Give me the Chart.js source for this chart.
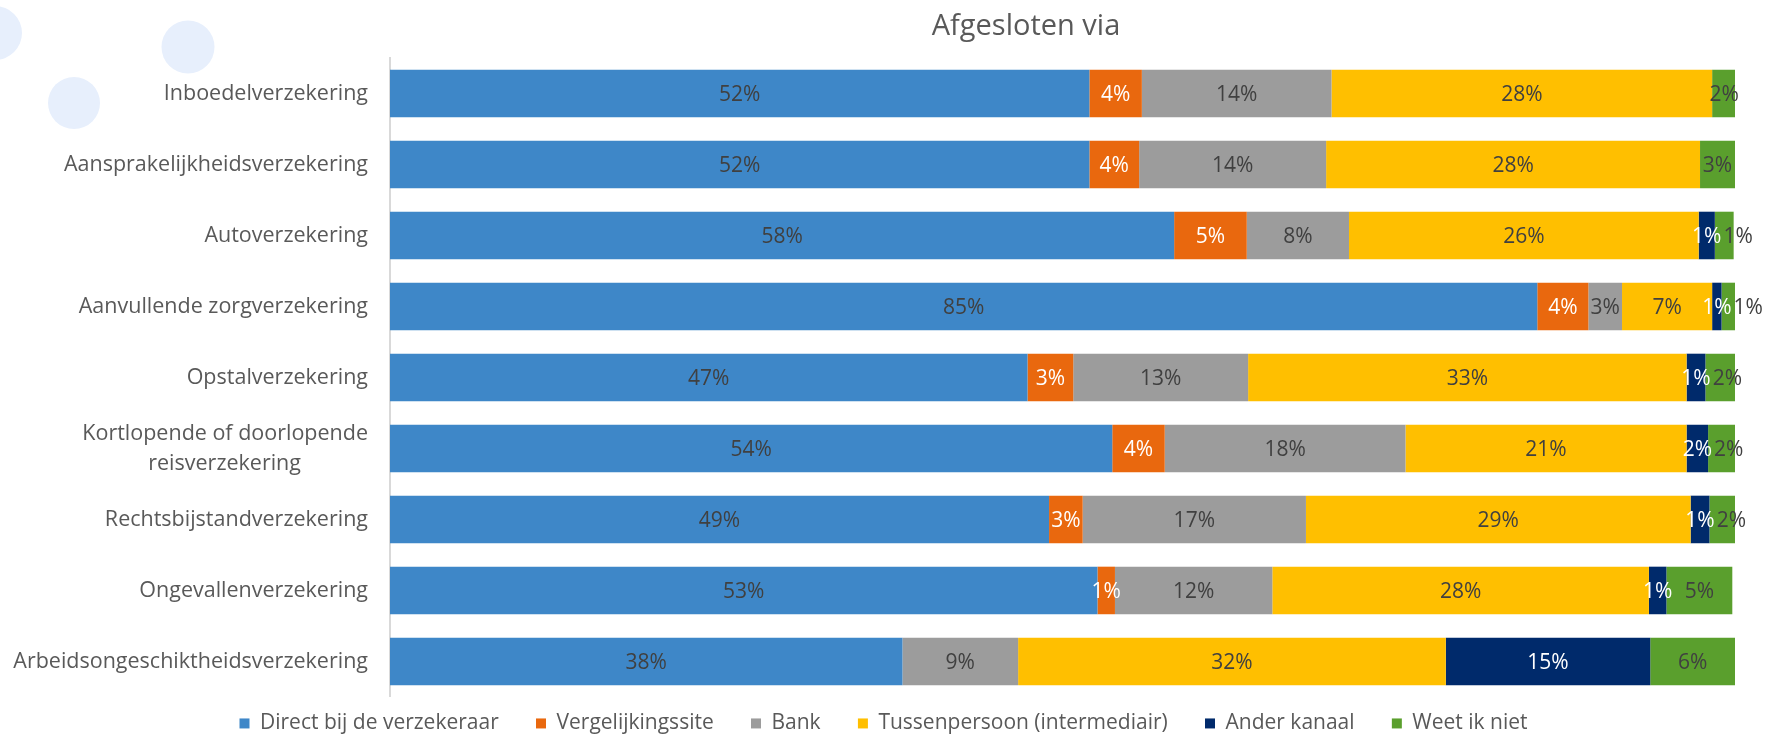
<!DOCTYPE html>
<html>
<head>
<meta charset="utf-8">
<script src="https://cdn.jsdelivr.net/npm/chart.js@4.4.1/dist/chart.umd.min.js"></script>
<style>
html,body{margin:0;padding:0;background:#ffffff;}
canvas{display:block;}
</style>
</head>
<body>
<canvas id="c" width="1767" height="734"></canvas>
<script>
const chartTitle = 'Afgesloten via';
const categories = [
  'Inboedelverzekering',
  'Aansprakelijkheidsverzekering',
  'Autoverzekering',
  'Aanvullende zorgverzekering',
  'Opstalverzekering',
  ['Kortlopende of doorlopende', 'reisverzekering'],
  'Rechtsbijstandverzekering',
  'Ongevallenverzekering',
  'Arbeidsongeschiktheidsverzekering'
];
const seriesNames = ['Direct bij de verzekeraar', 'Vergelijkingssite', 'Bank', 'Tussenpersoon (intermediair)', 'Ander kanaal', 'Weet ik niet'];
const directBijVerzekeraar = [52.0, 52.0, 58.3, 85.3, 47.4, 53.7, 49.0, 52.6, 38.1];
const vergelijkingssite    = [3.9, 3.7, 5.4, 3.8, 3.4, 3.9, 2.5, 1.3, 0];
const bank                 = [14.1, 13.9, 7.6, 2.5, 13.0, 17.9, 16.6, 11.7, 8.6];
const tussenpersoon        = [28.3, 27.8, 26.0, 6.7, 32.6, 20.9, 28.6, 28.0, 31.8];
const anderKanaal          = [0, 0, 1.2, 0.7, 1.4, 1.6, 1.4, 1.3, 15.2];
const weetIkNiet           = [1.8, 2.6, 1.4, 1.0, 2.2, 2.0, 2.0, 4.9, 6.3];

const seriesValues = [directBijVerzekeraar, vergelijkingssite, bank, tussenpersoon, anderKanaal, weetIkNiet];
const seriesColors = ['#3E87C8', '#E9680E', '#9C9C9C', '#FFBF00', '#002A6B', '#5A9F2D'];
const labelColors  = ['#404040', '#FFFFFF', '#404040', '#404040', '#FFFFFF', '#404040'];

const FONT = '"Open Sans", "DejaVu Sans", sans-serif';

// category labels: second line of multi-line label centred under first line
const displayCategories = categories.map(c => Array.isArray(c) ? [c[0], c[1] + '\u00A0'.repeat(12)] : c);

const decorPlugin = {
  id: 'decor',
  afterLayout(chart) {
    // centre the legend over the whole canvas and drop it slightly
    const lg = chart.legend;
    if (lg) { lg.right += 32; lg.top += 6; lg.bottom += 6; }
  },
  beforeDraw(chart) {
    const ctx = chart.ctx;
    ctx.save();
    ctx.fillStyle = '#E7EFFC';
    [[-5, 33, 27], [188, 47, 26.5], [74, 103, 26]].forEach(([x, y, r]) => {
      ctx.beginPath(); ctx.arc(x, y, r, 0, Math.PI * 2); ctx.fill();
    });
    ctx.restore();
  },
  afterDraw(chart) {
    const ctx = chart.ctx;
    ctx.save();
    ctx.font = '29px ' + FONT;
    ctx.fillStyle = '#595959';
    ctx.textAlign = 'center';
    ctx.textBaseline = 'alphabetic';
    ctx.fillText(chartTitle, 1026, 35);
    ctx.restore();
  }
};

const dataLabelPlugin = {
  id: 'dataLabels',
  afterDatasetsDraw(chart) {
    const ctx = chart.ctx;
    ctx.save();
    ctx.font = '21px ' + FONT;
    ctx.textAlign = 'center';
    ctx.textBaseline = 'middle';
    const n = chart.data.labels.length;
    for (let i = 0; i < n; i++) {
      let prevRight = -Infinity;
      chart.data.datasets.forEach((ds, di) => {
        const v = ds.data[i];
        if (!v) return;
        const el = chart.getDatasetMeta(di).data[i];
        const txt = Math.round(v) + '%';
        const w = ctx.measureText(txt).width;
        let x = (el.x + el.base) / 2;
        if (x - w / 2 < prevRight + 2) x = prevRight + 2 + w / 2;
        ctx.fillStyle = labelColors[di];
        ctx.fillText(txt, x, el.y + 2);
        prevRight = x + w / 2;
      });
    }
    ctx.restore();
  }
};

new Chart(document.getElementById('c'), {
  type: 'bar',
  data: {
    labels: displayCategories,
    datasets: seriesNames.map((name, i) => ({
      label: name,
      data: seriesValues[i],
      backgroundColor: seriesColors[i],
      borderWidth: 0,
      barPercentage: 0.67,
      categoryPercentage: 1.0
    }))
  },
  options: {
    indexAxis: 'y',
    responsive: false,
    animation: false,
    devicePixelRatio: 1,
    layout: { padding: { top: 58, right: 32, left: 0, bottom: -6 } },
    scales: {
      x: { stacked: true, min: 0, max: 100, display: false },
      y: {
        stacked: true,
        grid: { display: false, drawTicks: false },
        border: { display: true, color: '#D9D9D9', width: 2 },
        ticks: { color: '#595959', padding: 22, font: { family: FONT, size: 21.5, lineHeight: 1.4 } },
        afterFit(s) { s.width = 390; }
      }
    },
    plugins: {
      title: { display: false },
      tooltip: { enabled: false },
      legend: {
        position: 'bottom',
        labels: {
          boxWidth: 10,
          boxHeight: 10,
          padding: 10,
          color: '#595959',
          font: { family: FONT, size: 21 },
          generateLabels(chart) {
            const items = Chart.defaults.plugins.legend.labels.generateLabels(chart);
            items.forEach((it, i) => { if (i < items.length - 1) it.text += '\u00A0'.repeat(5); });
            return items;
          }
        }
      }
    }
  },
  plugins: [decorPlugin, dataLabelPlugin]
});
</script>
</body>
</html>
